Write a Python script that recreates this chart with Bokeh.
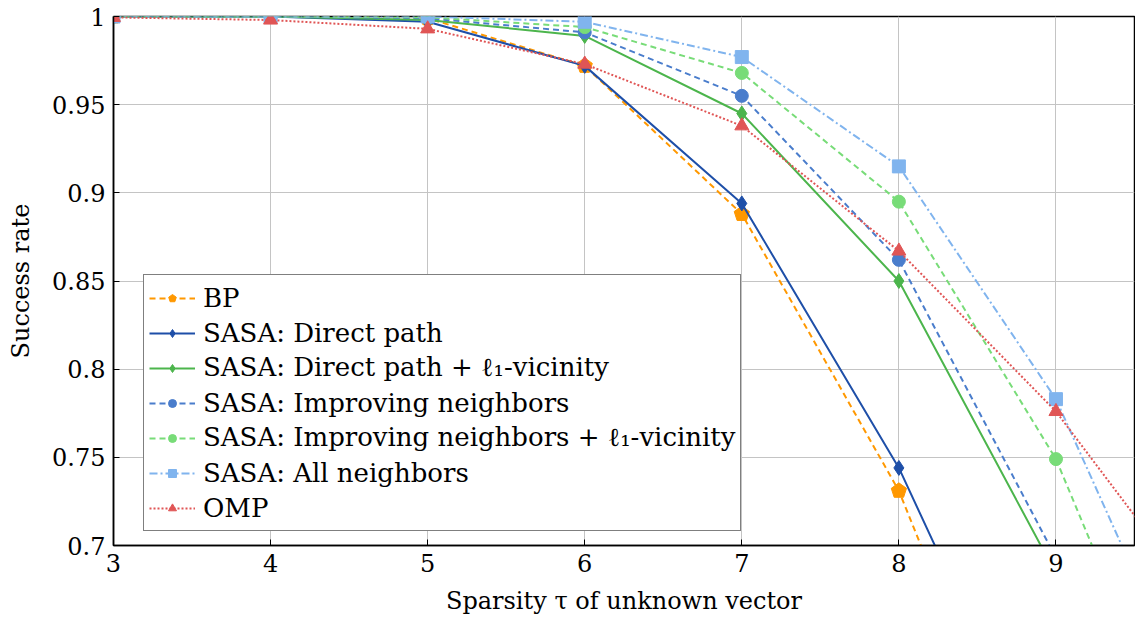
from bokeh.plotting import figure
from bokeh.models import Range1d, FixedTicker, Legend, LegendItem
from bokeh.embed import file_html
from bokeh.resources import INLINE

# ---- data ----
tau = [3, 4, 5, 6, 7, 8, 9, 10]
bp = [1.0, 1.0, 0.999, 0.972, 0.888, 0.731, 0.51]
direct = [1.0, 1.0, 0.997, 0.972, 0.894, 0.744, 0.552]
direct_l1 = [1.0, 1.0, 0.998, 0.989, 0.945, 0.850, 0.684]
improving = [1.0, 1.0, 0.999, 0.991, 0.955, 0.862, 0.693]
improving_l1 = [1.0, 1.0, 0.9995, 0.994, 0.968, 0.895, 0.749, 0.536]
all_nb = [1.0, 1.0, 1.0, 0.997, 0.977, 0.915, 0.783, 0.585]
omp = [0.9995, 0.998, 0.993, 0.973, 0.938, 0.867, 0.776, 0.658]

x_ticks = [3, 4, 5, 6, 7, 8, 9]
y_ticks = [0.7, 0.75, 0.8, 0.85, 0.9, 0.95, 1.0]
y_tick_labels = ["0.7", "0.75", "0.8", "0.85", "0.9", "0.95", "1"]

FONT = "DejaVu Serif"
FS = "24px"

p = figure(width=1135, height=624, x_range=Range1d(3, 9.5), y_range=Range1d(0.7, 1.0),
           output_backend="svg", toolbar_location=None,
           min_border_left=113, min_border_right=1, min_border_top=16, min_border_bottom=79)

p.outline_line_color = "black"
p.outline_line_width = 1.5
p.outline_line_alpha = 1

for g in (p.xgrid, p.ygrid):
    g.grid_line_color = "#c4c4c4"
    g.grid_line_width = 1
p.xaxis.ticker = FixedTicker(ticks=x_ticks)
p.yaxis.ticker = FixedTicker(ticks=y_ticks)
p.yaxis.major_label_overrides = {t: l for t, l in zip(y_ticks, y_tick_labels)}
p.xaxis.major_label_overrides = {t: str(t) for t in x_ticks}
for ax in (p.xaxis, p.yaxis):
    ax.major_tick_in = 6
    ax.major_tick_out = 0
    ax.minor_tick_line_color = None
    ax.axis_line_color = "black"
    ax.axis_line_width = 1.5
    ax.major_tick_line_color = "black"
    ax.major_label_text_font = FONT
    ax.major_label_text_font_size = FS
    ax.major_label_text_color = "black"
    ax.axis_label_text_font = FONT
    ax.axis_label_text_font_size = FS
    ax.axis_label_text_font_style = "normal"
    ax.axis_label_text_color = "black"
p.xaxis.axis_label = "Sparsity τ of unknown vector"
p.yaxis.axis_label = "Success rate"
p.xaxis.major_label_standoff = 8
p.yaxis.major_label_standoff = 8
p.xaxis.axis_label_standoff = 12
p.yaxis.axis_label_standoff = 14

series = [
    ("BP", bp, "#FF9800", "dashed", "pentagon"),
    ("SASA: Direct path", direct, "#1E4FA8", "solid", "diamond"),
    ("SASA: Direct path + ℓ₁-vicinity", direct_l1, "#4CB54C", "solid", "diamond"),
    ("SASA: Improving neighbors", improving, "#4A7DCC", "dashed", "circle"),
    ("SASA: Improving neighbors + ℓ₁-vicinity", improving_l1, "#78DC78", "dashed", "circle"),
    ("SASA: All neighbors", all_nb, "#80B4EE", "dashdot", "square"),
    ("OMP", omp, "#E05555", "dotted", "triangle"),
]
dash_map = {"solid": "solid", "dashed": "6 4", "dashdot": "8 3 2 3", "dotted": "2 2"}

items = []
for label, vals, color, dash, marker in series:
    xs = tau[:len(vals)]
    lr = p.line(xs, vals, line_color=color, line_width=2, line_dash=dash_map[dash])
    if marker == "pentagon":
        try:
            mr = p.ngon(xs, vals, radius=8, radius_units="screen", n=5,
                        fill_color=color, line_color=color)
        except Exception:
            mr = p.scatter(xs, vals, marker="hex", size=13, fill_color=color, line_color=color)
    elif marker == "diamond":
        mr = p.scatter(xs, vals, marker="diamond", size=15, fill_color=color, line_color=color)
    elif marker == "circle":
        mr = p.scatter(xs, vals, marker="circle", size=13, fill_color=color, line_color=color)
    elif marker == "square":
        mr = p.scatter(xs, vals, marker="square", size=13, fill_color=color, line_color=color)
    else:
        mr = p.scatter(xs, vals, marker="triangle", size=14, fill_color=color, line_color=color)
    items.append(LegendItem(label=label, renderers=[lr, mr]))

legend = Legend(items=items, location=(30, 14))
legend.border_line_color = "black"
legend.border_line_width = 1.5
legend.background_fill_alpha = 1
legend.label_text_font = FONT
legend.label_text_font_size = "26px"
legend.label_text_color = "black"
legend.glyph_width = 46
legend.glyph_height = 20
legend.label_height = 35
legend.spacing = 0
legend.padding = 5
legend.margin = 0
legend.label_standoff = 8
p.add_layout(legend)

open("out.html", "w").write(file_html(p, INLINE))
